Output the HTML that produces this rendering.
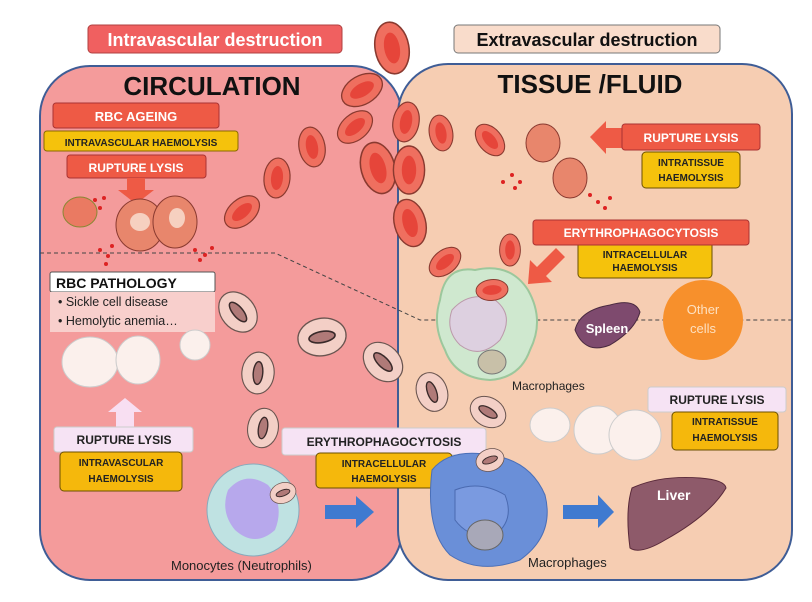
<!DOCTYPE html>
<html><head><meta charset="utf-8"><style>
body{margin:0;background:#fff;width:812px;height:602px;overflow:hidden}
svg{display:block}
text{font-family:"Liberation Sans",sans-serif;font-weight:bold}
</style></head><body>
<svg width="812" height="602" viewBox="0 0 812 602">
<defs>
<g id="rbc"><ellipse rx="13" ry="20" fill="#ef6f5f" stroke="#8a3a30" stroke-width="1.2"/><ellipse rx="6" ry="12" fill="#e6453a"/></g>
<g id="pale"><ellipse rx="17" ry="22" fill="#f3cfc6" stroke="#6a5550" stroke-width="1.2"/><ellipse rx="5" ry="12" fill="#b07a78" stroke="#3a2a2a" stroke-width="1.5"/></g>
</defs>
<rect x="40" y="66" width="362" height="514" rx="50" fill="#f49b9b" stroke="#3f5d96" stroke-width="2"/>
<rect x="398" y="64" width="394" height="516" rx="50" fill="#f6cdb2" stroke="#3f5d96" stroke-width="2"/>
<path d="M40 253 H275 L420 320 H792" fill="none" stroke="#444" stroke-width="1" stroke-dasharray="4,3"/>
<rect x="88" y="25" width="254" height="28" rx="4" fill="#f06060" stroke="#b04040"/>
<text x="215" y="46" font-size="18" fill="#fff" text-anchor="middle">Intravascular destruction</text>
<rect x="454" y="25" width="266" height="28" rx="4" fill="#f9dccb" stroke="#777"/>
<text x="587" y="46" font-size="18" fill="#111" text-anchor="middle">Extravascular destruction</text>
<text x="212" y="95" font-size="26" fill="#111" text-anchor="middle">CIRCULATION</text>
<text x="590" y="93" font-size="26" fill="#111" text-anchor="middle">TISSUE /FLUID</text>
<rect x="53" y="103" width="166" height="25" rx="3" fill="#ee5a45" stroke="#a33"/>
<text x="136" y="121" font-size="13" fill="#fff" text-anchor="middle">RBC AGEING</text>
<rect x="44" y="131" width="194" height="20" rx="3" fill="#f5c20c" stroke="#8a6a00"/>
<text x="141" y="146" font-size="10" fill="#222" text-anchor="middle">INTRAVASCULAR  HAEMOLYSIS</text>
<rect x="67" y="155" width="139" height="23" rx="3" fill="#ee5a45" stroke="#a33"/>
<text x="136" y="172" font-size="12" fill="#fff" text-anchor="middle">RUPTURE  LYSIS</text>
<polygon points="127,178 145,178 145,190 154,190 136,204 118,190 127,190" fill="#ee5a45"/>
<ellipse cx="80" cy="212" rx="17" ry="15" fill="#ea7a62" stroke="#883"/>
<ellipse cx="140" cy="225" rx="24" ry="26" fill="#e8866c" stroke="#8a3a30"/>
<ellipse cx="175" cy="222" rx="22" ry="26" fill="#e8866c" stroke="#8a3a30"/>
<ellipse cx="140" cy="222" rx="10" ry="9" fill="#f6d0c0"/><ellipse cx="177" cy="218" rx="8" ry="10" fill="#f6d0c0"/>
<g fill="#d22">
<circle cx="95" cy="200" r="2"/><circle cx="100" cy="208" r="2"/><circle cx="104" cy="198" r="2"/>
<circle cx="100" cy="250" r="2"/><circle cx="108" cy="256" r="2"/><circle cx="112" cy="246" r="2"/><circle cx="106" cy="264" r="2"/>
<circle cx="195" cy="250" r="2"/><circle cx="205" cy="255" r="2"/><circle cx="212" cy="248" r="2"/><circle cx="200" cy="260" r="2"/>
<circle cx="512" cy="175" r="2"/><circle cx="520" cy="182" r="2"/><circle cx="503" cy="182" r="2"/><circle cx="515" cy="188" r="2"/>
<circle cx="590" cy="195" r="2"/><circle cx="598" cy="202" r="2"/><circle cx="610" cy="198" r="2"/><circle cx="605" cy="208" r="2"/></g>
<use href="#rbc" transform="translate(392,48) rotate(-10) scale(1.3)"/>
<use href="#rbc" transform="translate(362,90) rotate(60) scale(1.1)"/>
<use href="#rbc" transform="translate(406,122) rotate(10)"/>
<use href="#rbc" transform="translate(378,168) rotate(-15) scale(1.3)"/>
<use href="#rbc" transform="translate(409,170) rotate(0) scale(1.2)"/>
<use href="#rbc" transform="translate(355,127) rotate(50)"/>
<use href="#rbc" transform="translate(312,147) rotate(-10)"/>
<use href="#rbc" transform="translate(277,178) rotate(5)"/>
<use href="#rbc" transform="translate(242,212) rotate(50)"/>
<use href="#rbc" transform="translate(441,133) rotate(-10) scale(0.9)"/>
<use href="#rbc" transform="translate(490,140) rotate(-40) scale(0.9)"/>
<use href="#rbc" transform="translate(410,223) rotate(-15) scale(1.2)"/>
<use href="#rbc" transform="translate(445,262) rotate(50) scale(0.9)"/>
<use href="#rbc" transform="translate(510,250) rotate(0) scale(0.8)"/>
<ellipse cx="543" cy="143" rx="17" ry="19" fill="#e8866c" stroke="#8a3a30"/>
<ellipse cx="570" cy="178" rx="17" ry="20" fill="#e8866c" stroke="#8a3a30"/>
<polygon points="590,137 606,121 606,128 622,128 622,148 606,148 606,154" fill="#ee5a45"/>
<rect x="622" y="124" width="138" height="26" rx="3" fill="#ee5a45" stroke="#a33"/>
<text x="691" y="142" font-size="12" fill="#fff" text-anchor="middle">RUPTURE  LYSIS</text>
<rect x="642" y="152" width="98" height="36" rx="4" fill="#f5c20c" stroke="#6a5000"/>
<text x="691" y="166" font-size="10" fill="#222" text-anchor="middle">INTRATISSUE</text>
<text x="691" y="181" font-size="10" fill="#222" text-anchor="middle">HAEMOLYSIS</text>
<rect x="578" y="240" width="134" height="38" rx="4" fill="#f5c20c" stroke="#6a5000"/>
<text x="645" y="258" font-size="10" fill="#222" text-anchor="middle">INTRACELLULAR</text>
<text x="645" y="271" font-size="10" fill="#222" text-anchor="middle">HAEMOLYSIS</text>
<rect x="533" y="220" width="216" height="25" rx="3" fill="#ee5a45" stroke="#a33"/>
<text x="641" y="237" font-size="12" fill="#fff" text-anchor="middle">ERYTHROPHAGOCYTOSIS</text>
<polygon points="556,248 565,257 546,276 552,282 528,284 530,260 537,267" fill="#ee5a45"/>
<path d="M440 300 Q445 265 475 270 Q510 262 528 290 Q545 320 530 350 Q520 378 490 380 Q455 378 445 350 Q432 325 440 300Z" fill="#cfe8cf" stroke="#9cc79c" stroke-width="2"/>
<path d="M452 310 Q470 290 495 300 Q515 315 500 340 Q480 360 460 345 Q445 330 452 310Z" fill="#ddd0e0" stroke="#b9a"/>
<use href="#rbc" transform="translate(492,290) rotate(85) scale(0.8)"/>
<ellipse cx="492" cy="362" rx="14" ry="12" fill="#c8c0a8" stroke="#777"/>
<text x="512" y="390" font-size="12" fill="#222" style="font-weight:normal">Macrophages</text>
<path d="M575 330 Q580 310 610 305 Q635 298 640 312 Q635 330 610 345 Q585 355 575 330Z" fill="#7e4a6e" stroke="#4a2a40"/>
<text x="607" y="333" font-size="13" fill="#fff" text-anchor="middle">Spleen</text>
<circle cx="703" cy="320" r="40" fill="#f7902c"/>
<text x="703" y="314" font-size="13" fill="#fde0c0" text-anchor="middle" style="font-weight:normal">Other</text>
<text x="703" y="333" font-size="13" fill="#fde0c0" text-anchor="middle" style="font-weight:normal">cells</text>
<rect x="50" y="272" width="165" height="20" rx="2" fill="#fff" stroke="#555"/>
<text x="56" y="288" font-size="14" fill="#111">RBC PATHOLOGY</text>
<rect x="50" y="292" width="165" height="40" fill="#f8cfcc"/>
<text x="58" y="306" font-size="12.5" fill="#222" style="font-weight:normal">• Sickle cell disease</text>
<text x="58" y="325" font-size="12.5" fill="#222" style="font-weight:normal">• Hemolytic anemia…</text>
<ellipse cx="90" cy="362" rx="28" ry="25" fill="#fbf0ec" stroke="#ccc"/>
<ellipse cx="138" cy="360" rx="22" ry="24" fill="#fbf0ec" stroke="#ccc"/>
<ellipse cx="195" cy="345" rx="15" ry="15" fill="#fbf0ec" stroke="#ccc"/>
<polygon points="116,427 116,412 108,412 125,398 142,412 134,412 134,427" fill="#f8dff2"/>
<rect x="54" y="427" width="139" height="25" rx="3" fill="#f6e3f4" stroke="#ccc"/>
<text x="124" y="444" font-size="12" fill="#222" text-anchor="middle">RUPTURE  LYSIS</text>
<rect x="60" y="452" width="122" height="39" rx="4" fill="#f5b80c" stroke="#6a5000"/>
<text x="121" y="466" font-size="10" fill="#222" text-anchor="middle">INTRAVASCULAR</text>
<text x="121" y="482" font-size="10" fill="#222" text-anchor="middle">HAEMOLYSIS</text>
<use href="#pale" transform="translate(238,312) rotate(-40)"/>
<use href="#pale" transform="translate(322,337) rotate(80) scale(1.1)"/>
<use href="#pale" transform="translate(258,373) rotate(5) scale(0.95)"/>
<use href="#pale" transform="translate(383,362) rotate(-45)"/>
<use href="#pale" transform="translate(263,428) rotate(10) scale(0.9)"/>
<use href="#pale" transform="translate(432,392) rotate(-20) scale(0.9)"/>
<use href="#pale" transform="translate(488,412) rotate(-60) scale(0.85)"/>
<circle cx="253" cy="510" r="46" fill="#bfe2e2" stroke="#8ab"/>
<path d="M228 490 Q245 470 268 485 Q285 505 275 530 Q255 548 235 530 Q220 512 228 490Z" fill="#b7a8ec"/>
<use href="#pale" transform="translate(283,493) rotate(70) scale(0.6)"/>
<text x="171" y="570" font-size="13" fill="#222" style="font-weight:normal">Monocytes (Neutrophils)</text>
<rect x="282" y="428" width="204" height="27" rx="3" fill="#f6e3f4" stroke="#ccc"/>
<text x="384" y="446" font-size="12" fill="#222" text-anchor="middle">ERYTHROPHAGOCYTOSIS</text>
<rect x="316" y="453" width="136" height="35" rx="4" fill="#f5b80c" stroke="#6a5000"/>
<text x="384" y="467" font-size="10" fill="#222" text-anchor="middle">INTRACELLULAR</text>
<text x="384" y="482" font-size="10" fill="#222" text-anchor="middle">HAEMOLYSIS</text>
<polygon points="325,505 356,505 356,496 374,512 356,528 356,519 325,519" fill="#3f7ad0"/>
<path d="M432 470 Q450 448 490 455 Q530 460 545 495 Q555 535 520 560 Q480 575 450 555 Q425 530 432 470Z" fill="#6a8fd8" stroke="#4a6fb8"/>
<path d="M455 490 Q480 480 505 495 Q515 520 495 535 Q470 540 455 520Z" fill="#7a9ae0" stroke="#4a6ab0"/>
<use href="#pale" transform="translate(490,460) rotate(70) scale(0.65)"/>
<ellipse cx="485" cy="535" rx="18" ry="15" fill="#a8a8b8" stroke="#666"/>
<polygon points="563,505 598,505 598,495 614,512 598,528 598,519 563,519" fill="#3f7ad0"/>
<text x="528" y="567" font-size="13" fill="#222" style="font-weight:normal">Macrophages</text>
<ellipse cx="550" cy="425" rx="20" ry="17" fill="#fbf0ec" stroke="#ccc"/>
<ellipse cx="598" cy="430" rx="24" ry="24" fill="#fbf0ec" stroke="#ccc"/>
<ellipse cx="635" cy="435" rx="26" ry="25" fill="#fbf0ec" stroke="#ccc"/>
<rect x="648" y="387" width="138" height="25" rx="3" fill="#f6e3f4" stroke="#ccc"/>
<text x="717" y="404" font-size="12" fill="#222" text-anchor="middle">RUPTURE  LYSIS</text>
<rect x="672" y="412" width="106" height="38" rx="4" fill="#f5b80c" stroke="#6a5000"/>
<text x="725" y="425" font-size="10" fill="#222" text-anchor="middle">INTRATISSUE</text>
<text x="725" y="441" font-size="10" fill="#222" text-anchor="middle">HAEMOLYSIS</text>
<path d="M632 488 Q660 475 700 478 Q725 480 726 488 Q710 515 665 540 Q640 555 630 548 Q625 510 632 488Z" fill="#8e5a6a" stroke="#5a2a3a"/>
<text x="657" y="500" font-size="14" fill="#fff">Liver</text>
</svg>
</body></html>
